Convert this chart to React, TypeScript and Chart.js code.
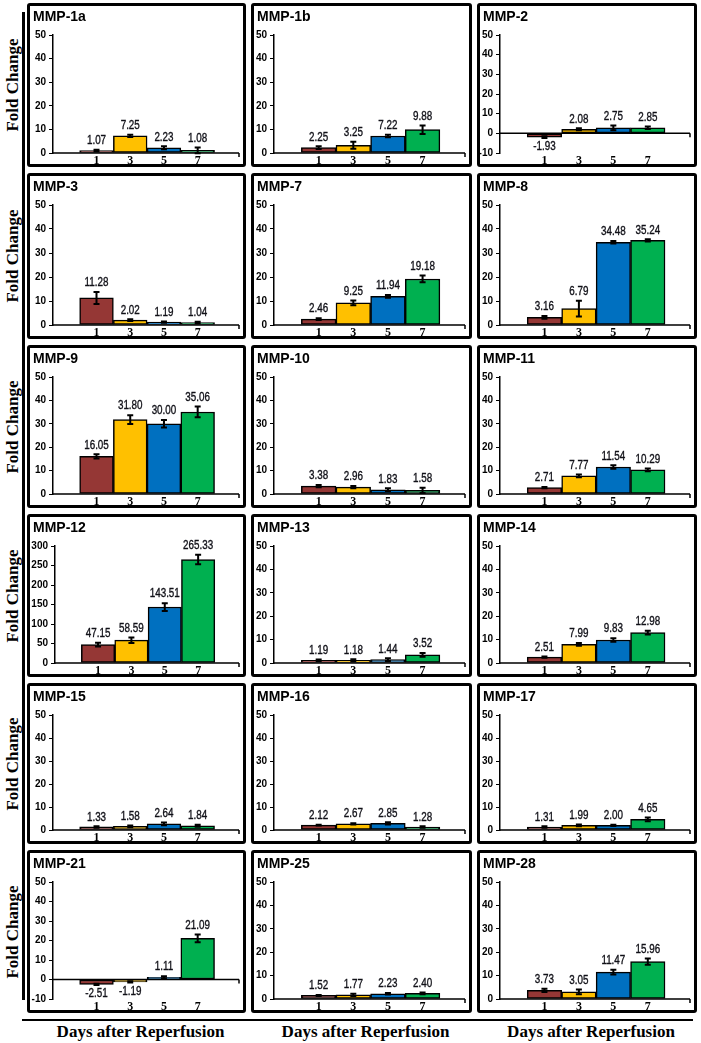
import React, { useEffect, useRef } from 'react';
import { Chart, registerables } from 'chart.js';
Chart.register(...registerables);

// ---------- data ----------
const days = [1, 3, 5, 7];
const dayColors = ['#953735', '#FFC000', '#0070C0', '#00B050'];

const titles = [
  'MMP-1a', 'MMP-1b', 'MMP-2',
  'MMP-3', 'MMP-7', 'MMP-8',
  'MMP-9', 'MMP-10', 'MMP-11',
  'MMP-12', 'MMP-13', 'MMP-14',
  'MMP-15', 'MMP-16', 'MMP-17',
  'MMP-21', 'MMP-25', 'MMP-28',
];

const mmp1a = [1.07, 7.25, 2.23, 1.08];
const mmp1b = [2.25, 3.25, 7.22, 9.88];
const mmp2 = [-1.93, 2.08, 2.75, 2.85];
const mmp3 = [11.28, 2.02, 1.19, 1.04];
const mmp7 = [2.46, 9.25, 11.94, 19.18];
const mmp8 = [3.16, 6.79, 34.48, 35.24];
const mmp9 = [16.05, 31.8, 30.0, 35.06];
const mmp10 = [3.38, 2.96, 1.83, 1.58];
const mmp11 = [2.71, 7.77, 11.54, 10.29];
const mmp12 = [47.15, 58.59, 143.51, 265.33];
const mmp13 = [1.19, 1.18, 1.44, 3.52];
const mmp14 = [2.51, 7.99, 9.83, 12.98];
const mmp15 = [1.33, 1.58, 2.64, 1.84];
const mmp16 = [2.12, 2.67, 2.85, 1.28];
const mmp17 = [1.31, 1.99, 2.0, 4.65];
const mmp21 = [-2.51, -1.19, 1.11, 21.09];
const mmp25 = [1.52, 1.77, 2.23, 2.4];
const mmp28 = [3.73, 3.05, 11.47, 15.96];

const err1a = [0.3, 0.5, 0.6, 1.2];
const err1b = [0.6, 1.5, 0.5, 1.8];
const err2 = [0.4, 0.5, 1.2, 0.6];
const err3 = [2.5, 0.4, 0.3, 0.3];
const err7 = [0.4, 1.0, 0.6, 1.4];
const err8 = [0.6, 3.3, 0.5, 0.5];
const err9 = [0.9, 1.9, 1.6, 2.3];
const err10 = [0.5, 0.5, 0.6, 1.1];
const err11 = [0.3, 0.6, 0.7, 0.6];
const err12 = [5, 7, 10, 12];
const err13 = [0.3, 0.4, 0.6, 0.8];
const err14 = [0.3, 0.6, 0.8, 0.8];
const err15 = [0.3, 0.4, 0.6, 0.4];
const err16 = [0.2, 0.3, 0.5, 0.3];
const err17 = [0.3, 0.4, 0.3, 0.8];
const err21 = [0.3, 0.3, 0.6, 2.0];
const err25 = [0.2, 0.5, 0.3, 0.4];
const err28 = [0.7, 1.0, 1.0, 1.3];

const allValues = [mmp1a, mmp1b, mmp2, mmp3, mmp7, mmp8, mmp9, mmp10, mmp11, mmp12, mmp13, mmp14, mmp15, mmp16, mmp17, mmp21, mmp25, mmp28];
const allErrors = [err1a, err1b, err2, err3, err7, err8, err9, err10, err11, err12, err13, err14, err15, err16, err17, err21, err25, err28];
const yMins = [0, 0, -10, 0, 0, 0, 0, 0, 0, 0, 0, 0, 0, 0, 0, -10, 0, 0];
const yMaxs = [50, 50, 50, 50, 50, 50, 50, 50, 50, 300, 50, 50, 50, 50, 50, 50, 50, 50];
const ySteps = [10, 10, 10, 10, 10, 10, 10, 10, 10, 50, 10, 10, 10, 10, 10, 10, 10, 10];

const yAxisTitle = 'Fold Change';
const xAxisTitle = 'Days after Reperfusion';

// ---------- layout ----------
const colLefts = [27, 251, 477];
const colWidths = [219, 221, 220];
const rowTops = [3, 173, 345, 514, 683, 850];
const rowHeights = [164, 166, 163, 163, 161, 163];
const colAxisWidths = [23, 20, 20];
const BORDER = 3;

const sans = "'Liberation Sans', Arial, sans-serif";
const serif = "'Liberation Serif', 'Times New Roman', serif";

type PanelProps = {
  title: string;
  values: number[];
  errors: number[];
  yMin: number;
  yMax: number;
  yStep: number;
  axisWidth: number;
  left: number;
  top: number;
  width: number;
  height: number;
};

function Panel(p: PanelProps) {
  const ref = useRef<HTMLCanvasElement | null>(null);
  useEffect(() => {
    if (!ref.current) return;
    const annot = {
      id: 'annot',
      afterDatasetsDraw(chart: any) {
        const ctx = chart.ctx;
        const ys = chart.scales.y;
        const area = chart.chartArea;
        const y0 = ys.getPixelForValue(0);
        ctx.save();
        ctx.strokeStyle = '#000';
        ctx.lineWidth = 1.5;
        ctx.beginPath();
        ctx.moveTo(area.left, y0);
        ctx.lineTo(area.right, y0);
        ctx.moveTo(area.right, y0);
        ctx.lineTo(area.right, y0 + 4);
        ctx.stroke();
        const meta = chart.getDatasetMeta(0);
        meta.data.forEach((bar: any, i: number) => {
          const v = p.values[i];
          const e = p.errors[i];
          const x = bar.x;
          const yt = ys.getPixelForValue(v + e);
          const yb = ys.getPixelForValue(v - e);
          ctx.strokeStyle = '#000';
          ctx.lineWidth = 2;
          ctx.beginPath();
          ctx.moveTo(x, yt);
          ctx.lineTo(x, yb);
          ctx.moveTo(x - 3, yt);
          ctx.lineTo(x + 3, yt);
          ctx.moveTo(x - 3, yb);
          ctx.lineTo(x + 3, yb);
          ctx.stroke();
          ctx.save();
          const ty = v >= 0 ? Math.min(bar.y, yt) - 3 : Math.max(bar.y, yb) + 3;
          ctx.translate(x, ty);
          ctx.scale(0.82, 1);
          ctx.font = `12px ${sans}`;
          ctx.fillStyle = '#111118';
          ctx.strokeStyle = '#111118';
          ctx.lineWidth = 0.35;
          ctx.textAlign = 'center';
          ctx.textBaseline = v >= 0 ? 'bottom' : 'top';
          ctx.fillText(v.toFixed(2), 0, 0);
          ctx.strokeText(v.toFixed(2), 0, 0);
          ctx.restore();
        });
        ctx.font = `bold 14px ${sans}`;
        ctx.fillStyle = '#000';
        ctx.textAlign = 'left';
        ctx.textBaseline = 'middle';
        ctx.fillText(p.title, 3, 11);
        ctx.restore();
      },
    };
    const chart = new Chart(ref.current, {
      type: 'bar',
      data: {
        datasets: [
          {
            data: days.map((d, i) => ({ x: d, y: p.values[i] })),
            backgroundColor: dayColors,
            borderColor: '#000',
            borderWidth: 1.5,
            borderSkipped: false,
            barPercentage: 1,
            categoryPercentage: 1,
          },
        ],
      },
      options: {
        responsive: false,
        animation: false,
        events: [],
        layout: { padding: { left: 0, right: 4, top: 29, bottom: 0 } },
        plugins: { legend: { display: false }, tooltip: { enabled: false }, title: { display: false } },
        scales: {
          x: {
            type: 'linear',
            min: -1.58,
            max: 9.45,
            offset: false,
            grid: { display: false, drawTicks: false },
            border: { display: false },
            ticks: {
              autoSkip: false,
              maxRotation: 0,
              padding: 2,
              color: '#000',
              font: { family: serif, size: 12, weight: 'bold', lineHeight: 1 },
              callback: (v: any) => String(v),
            },
            afterBuildTicks: (axis: any) => {
              axis.ticks = days.map((v) => ({ value: v }));
            },
            afterFit: (s: any) => {
              s.height = 11;
            },
          },
          y: {
            min: p.yMin,
            max: p.yMax,
            ticks: {
              stepSize: p.yStep,
              padding: 3,
              color: '#000',
              font: { family: sans, size: 10, weight: 'bold' },
            },
            grid: { drawOnChartArea: false, drawTicks: true, tickLength: 4, color: '#000', lineWidth: 1 },
            border: { display: true, color: '#000', width: 1.5 },
            afterFit: (s: any) => {
              s.width = p.axisWidth;
            },
          },
        },
      } as any,
      plugins: [annot],
    });
    return () => chart.destroy();
  }, []);
  const w = p.width - 2 * BORDER;
  const h = p.height - 2 * BORDER;
  return (
    <div
      style={{
        position: 'absolute',
        left: p.left,
        top: p.top,
        width: p.width,
        height: p.height,
        border: `${BORDER}px solid #000`,
        boxSizing: 'border-box',
        borderRadius: 3,
        background: '#fff',
      }}
    >
      <canvas ref={ref} width={w} height={h} style={{ display: 'block', width: w, height: h }} />
    </div>
  );
}

export default function App() {
  const panels = titles.map((t, i) => {
    const r = Math.floor(i / 3);
    const c = i % 3;
    return (
      <Panel
        key={t}
        title={t}
        values={allValues[i]}
        errors={allErrors[i]}
        yMin={yMins[i]}
        yMax={yMaxs[i]}
        yStep={ySteps[i]}
        axisWidth={yMaxs[i] >= 100 ? 25 : colAxisWidths[c]}
        left={colLefts[c]}
        top={rowTops[r]}
        width={colWidths[c]}
        height={rowHeights[r]}
      />
    );
  });
  return (
    <div
      style={{
        position: 'absolute',
        left: 0,
        top: 0,
        width: 701,
        height: 1043,
        overflow: 'hidden',
        background: '#fff',
      }}
    >
      {rowTops.map((t, r) => {
        const cy = t + rowHeights[r] / 2;
        return (
          <div
            key={'fc' + r}
            style={{
              position: 'absolute',
              left: 13 - 80,
              top: cy - 10,
              width: 160,
              height: 20,
              lineHeight: '20px',
              textAlign: 'center',
              transform: 'rotate(-90deg)',
              font: `bold 17px ${serif}`,
              color: '#000',
              whiteSpace: 'nowrap',
            }}
          >
            {yAxisTitle}
          </div>
        );
      })}
      <div style={{ position: 'absolute', left: 22, top: 12, width: 2.5, height: 988, background: '#000' }} />
      <div style={{ position: 'absolute', left: 22, top: 1019, width: 671, height: 2, background: '#000' }} />
      {colLefts.map((l, c) => (
        <div
          key={'dx' + c}
          style={{
            position: 'absolute',
            left: l + 4,
            top: 1022,
            width: colWidths[c],
            height: 20,
            lineHeight: '20px',
            textAlign: 'center',
            font: `bold 17px ${serif}`,
            color: '#000',
            whiteSpace: 'nowrap',
          }}
        >
          {xAxisTitle}
        </div>
      ))}
      {panels}
    </div>
  );
}
